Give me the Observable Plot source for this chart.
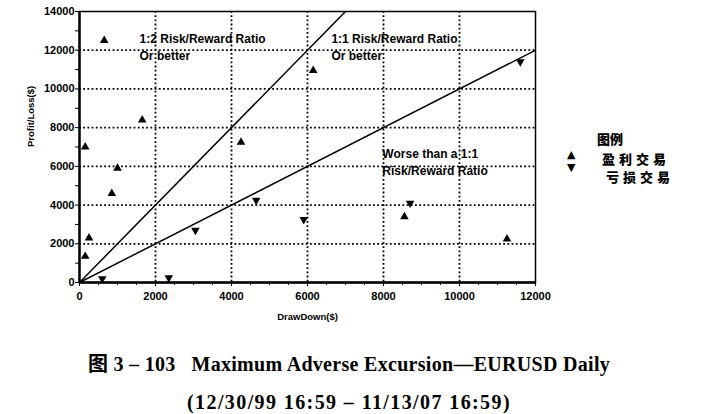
<!DOCTYPE html>
<html><head><meta charset="utf-8">
<script src="https://cdn.jsdelivr.net/npm/d3@7"></script>
<script src="https://cdn.jsdelivr.net/npm/@observablehq/plot@0.6"></script>
<style>
html,body{margin:0;padding:0;background:#fff;}
#wrap{position:relative;width:712px;height:414px;}
.lg{position:absolute;font-family:"Noto Sans CJK SC",sans-serif;font-weight:900;color:#000;white-space:nowrap;line-height:1;}
.mk{position:absolute;font-family:"DejaVu Sans",sans-serif;font-size:11px;line-height:11px;color:#000;}
.cap{position:absolute;left:0;width:698px;text-align:center;font-family:"Liberation Serif","Noto Sans CJK SC",serif;font-weight:bold;font-size:20px;line-height:24px;color:#000;white-space:pre;}
</style>
</head><body>
<div id="wrap">
<div id="chart"></div>
<div class="lg" id="lgTitle" style="left:597px;top:132px;font-size:13px;"></div>
<div class="mk" id="lgM1" style="left:567px;top:149px;">▲</div>
<div class="mk" id="lgM2" style="left:567px;top:162px;">▼</div>
<div class="lg" id="lgS1" style="left:602px;top:152px;font-size:13px;letter-spacing:4px;"></div>
<div class="lg" id="lgS2" style="left:606px;top:170px;font-size:13px;letter-spacing:4px;"></div>
<div class="cap" id="cap1" style="top:352px;letter-spacing:0.3px;"></div>
<div class="cap" id="cap2" style="top:390px;letter-spacing:1.4px;"></div>
</div>
<script>
// ---- data ----
const winX  = [650, 150, 1650, 4250, 6150, 1000, 850, 250, 150, 8550, 11250];
const winY  = [12500, 7000, 8400, 7250, 10950, 5900, 4600, 2300, 1350, 3400, 2250];
const lossX = [600, 2350, 3050, 4650, 5900, 8700, 11600];
const lossY = [200, 250, 2700, 4250, 3250, 4100, 11400];
const ratio12X = [0, 7000], ratio12Y = [0, 14000];
const ratio11X = [0, 12000], ratio11Y = [0, 12000];
const xTicks = [0, 2000, 4000, 6000, 8000, 10000, 12000];
const yTicks = [0, 2000, 4000, 6000, 8000, 10000, 12000, 14000];
const xGrid = [2000, 4000, 6000, 8000, 10000];
const yGrid = [2000, 4000, 6000, 8000, 10000, 12000];
const xMinor = [500, 1000, 1500, 2500, 3000, 3500, 4500, 5000, 5500, 6500, 7000, 7500, 8500, 9000, 9500, 10500, 11000, 11500];
const yMinor = [1000, 3000, 5000, 7000, 9000, 11000, 13000];
const noteText = ["1:2 Risk/Reward Ratio\nOr better", "1:1 Risk/Reward Ratio\nOr better", "Worse than a 1:1\nRisk/Reward Ratio"];
const noteX = [1580, 6630, 7970];
const noteY = [12200, 12200, 6260];
const xLabel = "DrawDown($)";
const yLabel = "Profit/Loss($)";
const legendTitle = "图例";
const seriesNames = ["盈利交易", "亏损交易"];
const caption1 = "图 3 – 103   Maximum Adverse Excursion—EURUSD Daily";
const caption2 = "(12/30/99 16:59 – 11/13/07 16:59)";

const wins = winX.map((x, i) => ({x, y: winY[i]}));
const losses = lossX.map((x, i) => ({x, y: lossY[i]}));
const r12 = ratio12X.map((x, i) => ({x, y: ratio12Y[i]}));
const r11 = ratio11X.map((x, i) => ({x, y: ratio11Y[i]}));
const notes = noteText.map((t, i) => ({t, x: noteX[i], y: noteY[i]}));
const fmt = d3.format("d");
const grid = {stroke: "#000", strokeOpacity: 1, strokeWidth: 1.8, strokeDasharray: "1.8,2.4"};

const chart = Plot.plot({
  width: 712, height: 330,
  marginLeft: 79, marginRight: 177, marginTop: 11, marginBottom: 48,
  x: {domain: [0, 12000]},
  y: {domain: [0, 14000]},
  style: {fontFamily: "'Liberation Sans', Arial, sans-serif", fontSize: "11px", fontWeight: "bold", color: "#000", background: "#fff", overflow: "visible"},
  marks: [
    Plot.ruleX(xGrid, {x: d => d, ...grid}),
    Plot.ruleY(yGrid, {y: d => d, ...grid}),
    Plot.frame({stroke: "#000", strokeWidth: 1.5}),
    Plot.ruleX([0], {stroke: "#000", strokeWidth: 2.4}),
    Plot.ruleY([0], {stroke: "#000", strokeWidth: 2.4}),
    Plot.axisX({ticks: xTicks, tickSize: 4, tickPadding: 6, tickFormat: fmt, label: null, letterSpacing: "-0.3px"}),
    Plot.axisX({ticks: xMinor, tickSize: 3, tickFormat: () => "", label: null}),
    Plot.axisY({ticks: yTicks, tickSize: 4, tickPadding: 1, tickFormat: fmt, label: null, letterSpacing: "-0.3px"}),
    Plot.axisY({ticks: yMinor, tickSize: 4, tickFormat: () => "", label: null}),
    Plot.text([xLabel], {frameAnchor: "bottom", dy: 37, fontSize: 9.5, fontWeight: "bold", letterSpacing: "-0.3px"}),
    Plot.text([yLabel], {frameAnchor: "left", dx: -49, rotate: -90, fontSize: 9.5, fontWeight: "bold", letterSpacing: "-0.3px"}),
    Plot.line(r12, {x: "x", y: "y", stroke: "#000", strokeWidth: 1.5, clip: true}),
    Plot.line(r11, {x: "x", y: "y", stroke: "#000", strokeWidth: 1.5, clip: true}),
    Plot.dot(wins, {x: "x", y: "y", symbol: "triangle", r: 3.2, fill: "#000", stroke: null}),
    Plot.dot(losses, {x: "x", y: "y", symbol: "triangle", r: 3.2, rotate: 180, fill: "#000", stroke: null}),
    Plot.text(notes, {x: "x", y: "y", text: "t", textAnchor: "start", lineHeight: 1.4, fontSize: 12, fontWeight: "bold", letterSpacing: "-0.2px", fill: "#000"})
  ]
});
document.getElementById("chart").append(chart);

document.getElementById("lgTitle").textContent = legendTitle;
document.getElementById("lgS1").textContent = seriesNames[0];
document.getElementById("lgS2").textContent = seriesNames[1];
document.getElementById("cap1").textContent = caption1;
document.getElementById("cap2").textContent = caption2;
</script>
</body></html>
